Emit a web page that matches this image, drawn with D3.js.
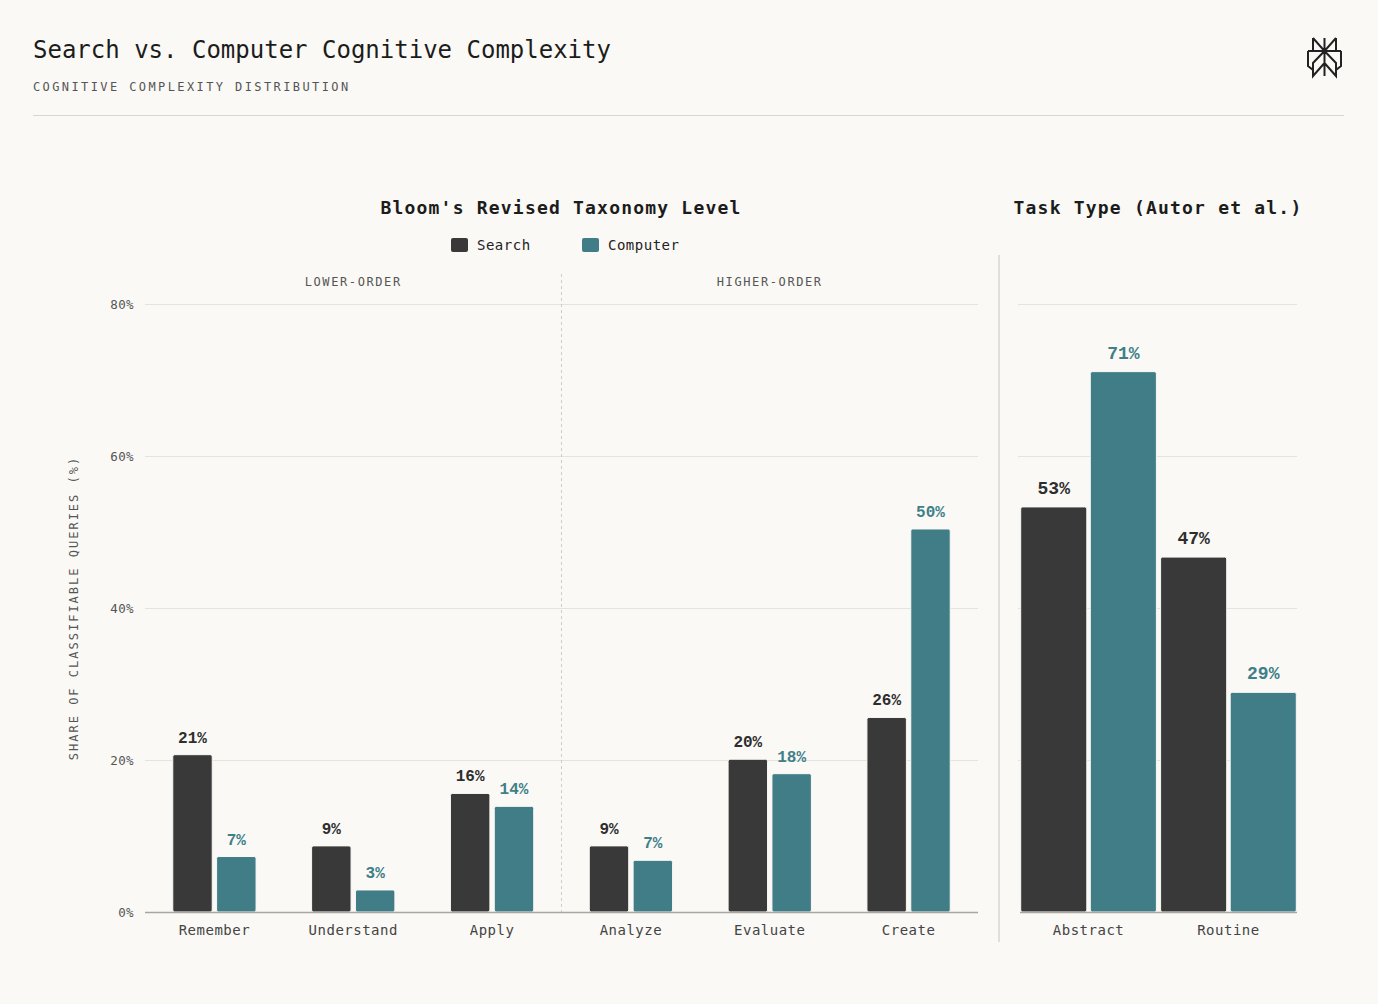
<!DOCTYPE html>
<html>
<head>
<meta charset="utf-8">
<script src="https://cdn.jsdelivr.net/npm/d3@7"></script>
<style>
  html, body { margin: 0; padding: 0; background: #faf9f5; }
  svg { display: block; font-family: "DejaVu Sans Mono", "Liberation Mono", monospace; }
  .val { font-family: "Liberation Mono", "DejaVu Sans Mono", monospace; }
</style>
</head>
<body>
<div id="container"></div>
<script>
// Chart data
const bloomLevels = ["Remember", "Understand", "Apply", "Analyze", "Evaluate", "Create"];
const bloomSearch = [20.7, 8.7, 15.6, 8.7, 20.1, 25.6];
const bloomComputer = [7.3, 2.9, 13.9, 6.8, 18.2, 50.4];
const orderGroups = ["LOWER-ORDER", "HIGHER-ORDER"];
const taskTypes = ["Abstract", "Routine"];
const taskSearch = [53.3, 46.7];
const taskComputer = [71.1, 28.9];
const seriesNames = ["Search", "Computer"];
const yTicks = [0, 20, 40, 60, 80];

const width = 1378;
const height = 1004;
const bg = "#faf9f5";

const colors = d3.scaleOrdinal()
    .domain(seriesNames)
    .range(["#393939", "#417d87"]);
const labelColors = d3.scaleOrdinal()
    .domain(seriesNames)
    .range(["#2e2e2e", "#3f7f8a"]);

const svg = d3.select("#container")
    .append("svg")
    .attr("width", width)
    .attr("height", height);

svg.append("rect").attr("width", width).attr("height", height).attr("fill", bg);

// Header
svg.append("text")
    .attr("x", 33).attr("y", 58)
    .attr("font-size", 24)
    .attr("fill", "#1c1c1c")
    .text("Search vs. Computer Cognitive Complexity");

svg.append("text")
    .attr("x", 33).attr("y", 91)
    .attr("font-size", 12)
    .attr("letter-spacing", 2.4)
    .attr("fill", "#555")
    .text("COGNITIVE COMPLEXITY DISTRIBUTION");

svg.append("line")
    .attr("x1", 33).attr("x2", 1344)
    .attr("y1", 115.5).attr("y2", 115.5)
    .attr("stroke", "#d9d6cf");

// Logo (rough)
svg.append("path")
    .attr("d", "M1324.5,38 V76 M1313,38 V51 L1324.5,51 L1313,38 M1336,38 V51 L1324.5,51 L1336,38" +
        " M1308,51 H1341 M1308,51 V66 L1313,70 V76 L1324.5,63 M1324.5,51 L1313,63 V70" +
        " M1341,51 V66 L1336,70 V76 L1324.5,63 M1324.5,51 L1336,63 V70")
    .attr("fill", "none")
    .attr("stroke", "#222")
    .attr("stroke-width", 2)
    .attr("stroke-linejoin", "miter");

// Shared y scale
const y = d3.scaleLinear()
    .domain([0, 80])
    .range([912, 304]);

// Left panel: Bloom's taxonomy
const x0 = d3.scaleBand()
    .domain(bloomLevels)
    .range([145, 978])
    .paddingInner(0.4)
    .paddingOuter(0.2);

const x1 = d3.scaleBand()
    .domain(seriesNames)
    .range([0, x0.bandwidth()])
    .paddingInner(0.1);

const left = svg.append("g");

left.append("text")
    .attr("x", 561).attr("y", 214)
    .attr("text-anchor", "middle")
    .attr("font-size", 18)
    .attr("font-weight", "bold")
    .attr("letter-spacing", 1.2)
    .attr("fill", "#1c1c1c")
    .text("Bloom's Revised Taxonomy Level");

// Legend
const legend = left.append("g")
    .selectAll("g")
    .data(seriesNames)
    .enter()
    .append("g")
    .attr("transform", (d, i) => `translate(${451 + i * 131}, 238)`);

legend.append("rect")
    .attr("width", 17).attr("height", 14)
    .attr("rx", 2)
    .attr("fill", d => colors(d));

legend.append("text")
    .attr("x", 26).attr("y", 12)
    .attr("font-size", 14)
    .attr("letter-spacing", 0.5)
    .attr("fill", "#222")
    .text(d => d);

// Gridlines + y tick labels
left.append("g")
    .selectAll("line")
    .data(yTicks.filter(d => d > 0))
    .enter()
    .append("line")
    .attr("x1", 145).attr("x2", 978)
    .attr("y1", d => y(d) + 0.5).attr("y2", d => y(d) + 0.5)
    .attr("stroke", "#e6e3dc");

left.append("g")
    .selectAll("text")
    .data(yTicks)
    .enter()
    .append("text")
    .attr("x", 134)
    .attr("y", d => y(d) + 5)
    .attr("text-anchor", "end")
    .attr("font-size", 12.5)
    .attr("letter-spacing", 0.4)
    .attr("fill", "#555")
    .text(d => d + "%");

left.append("text")
    .attr("transform", `translate(78, ${y(40)}) rotate(-90)`)
    .attr("text-anchor", "middle")
    .attr("font-size", 12)
    .attr("letter-spacing", 2)
    .attr("fill", "#555")
    .text("SHARE OF CLASSIFIABLE QUERIES (%)");

// Lower / higher order divider and labels
const divX = x0(bloomLevels[3]) - x0.step() * x0.paddingInner() / 2;
left.append("line")
    .attr("x1", divX).attr("x2", divX)
    .attr("y1", 274).attr("y2", 912)
    .attr("stroke", "#cfccc5")
    .attr("stroke-dasharray", "3,3");

left.append("g")
    .selectAll("text")
    .data(orderGroups)
    .enter()
    .append("text")
    .attr("x", (d, i) => {
        const a = x0(bloomLevels[i * 3]);
        const b = x0(bloomLevels[i * 3 + 2]) + x0.bandwidth();
        return (a + b) / 2;
    })
    .attr("y", 286)
    .attr("text-anchor", "middle")
    .attr("font-size", 12)
    .attr("letter-spacing", 1.6)
    .attr("fill", "#555")
    .text(d => d);

const bloomData = bloomLevels.map((level, i) => ({
    level: level,
    values: [
        { series: "Search", value: bloomSearch[i] },
        { series: "Computer", value: bloomComputer[i] }
    ]
}));

const groups = left.append("g")
    .selectAll("g")
    .data(bloomData)
    .enter()
    .append("g")
    .attr("transform", d => `translate(${x0(d.level)}, 0)`);

groups.selectAll("rect")
    .data(d => d.values)
    .enter()
    .append("rect")
    .attr("x", d => x1(d.series))
    .attr("y", d => y(d.value))
    .attr("width", x1.bandwidth())
    .attr("height", d => y(0) - y(d.value))
    .attr("rx", 2)
    .attr("fill", d => colors(d.series))
    .attr("stroke", bg)
    .attr("stroke-width", 1);

groups.selectAll("text.val")
    .data(d => d.values)
    .enter()
    .append("text")
    .attr("class", "val")
    .attr("x", d => x1(d.series) + x1.bandwidth() / 2)
    .attr("y", d => y(d.value) - 12)
    .attr("text-anchor", "middle")
    .attr("font-size", 16)
    .attr("font-weight", "bold")
    .attr("fill", d => labelColors(d.series))
    .text(d => Math.round(d.value) + "%");

left.append("line")
    .attr("x1", 145).attr("x2", 978)
    .attr("y1", y(0) + 0.5).attr("y2", y(0) + 0.5)
    .attr("stroke", "#a9a6a0")
    .attr("stroke-width", 1.5);

left.append("g")
    .selectAll("text")
    .data(bloomLevels)
    .enter()
    .append("text")
    .attr("x", d => x0(d) + x0.bandwidth() / 2)
    .attr("y", 935)
    .attr("text-anchor", "middle")
    .attr("font-size", 14)
    .attr("letter-spacing", 0.5)
    .attr("fill", "#444")
    .text(d => d);

// Panel separator
svg.append("line")
    .attr("x1", 999).attr("x2", 999)
    .attr("y1", 255).attr("y2", 942)
    .attr("stroke", "#e2dfd8")
    .attr("stroke-width", 2);

// Right panel: task type
const tx0 = d3.scaleBand()
    .domain(taskTypes)
    .range([1020, 1297])
    .paddingInner(0.03)
    .paddingOuter(0.005);

const tx1 = d3.scaleBand()
    .domain(seriesNames)
    .range([0, tx0.bandwidth()])
    .paddingInner(0.05);

const right = svg.append("g");

right.append("text")
    .attr("x", 1158).attr("y", 214)
    .attr("text-anchor", "middle")
    .attr("font-size", 18)
    .attr("font-weight", "bold")
    .attr("letter-spacing", 1.2)
    .attr("fill", "#1c1c1c")
    .text("Task Type (Autor et al.)");

right.append("g")
    .selectAll("line")
    .data(yTicks.filter(d => d > 0))
    .enter()
    .append("line")
    .attr("x1", 1018).attr("x2", 1297)
    .attr("y1", d => y(d) + 0.5).attr("y2", d => y(d) + 0.5)
    .attr("stroke", "#e6e3dc");

const taskData = taskTypes.map((t, i) => ({
    type: t,
    values: [
        { series: "Search", value: taskSearch[i] },
        { series: "Computer", value: taskComputer[i] }
    ]
}));

const tgroups = right.append("g")
    .selectAll("g")
    .data(taskData)
    .enter()
    .append("g")
    .attr("transform", d => `translate(${tx0(d.type)}, 0)`);

tgroups.selectAll("rect")
    .data(d => d.values)
    .enter()
    .append("rect")
    .attr("x", d => tx1(d.series))
    .attr("y", d => y(d.value))
    .attr("width", tx1.bandwidth())
    .attr("height", d => y(0) - y(d.value))
    .attr("rx", 2)
    .attr("fill", d => colors(d.series))
    .attr("stroke", bg)
    .attr("stroke-width", 1);

tgroups.selectAll("text.val")
    .data(d => d.values)
    .enter()
    .append("text")
    .attr("class", "val")
    .attr("x", d => tx1(d.series) + tx1.bandwidth() / 2)
    .attr("y", d => y(d.value) - 13)
    .attr("text-anchor", "middle")
    .attr("font-size", 18)
    .attr("font-weight", "bold")
    .attr("fill", d => labelColors(d.series))
    .text(d => Math.round(d.value) + "%");

right.append("line")
    .attr("x1", 1020).attr("x2", 1297)
    .attr("y1", y(0) + 0.5).attr("y2", y(0) + 0.5)
    .attr("stroke", "#a9a6a0")
    .attr("stroke-width", 1.5);

right.append("g")
    .selectAll("text")
    .data(taskTypes)
    .enter()
    .append("text")
    .attr("x", d => tx0(d) + tx0.bandwidth() / 2)
    .attr("y", 935)
    .attr("text-anchor", "middle")
    .attr("font-size", 14)
    .attr("letter-spacing", 0.5)
    .attr("fill", "#444")
    .text(d => d);
</script>
</body>
</html>
